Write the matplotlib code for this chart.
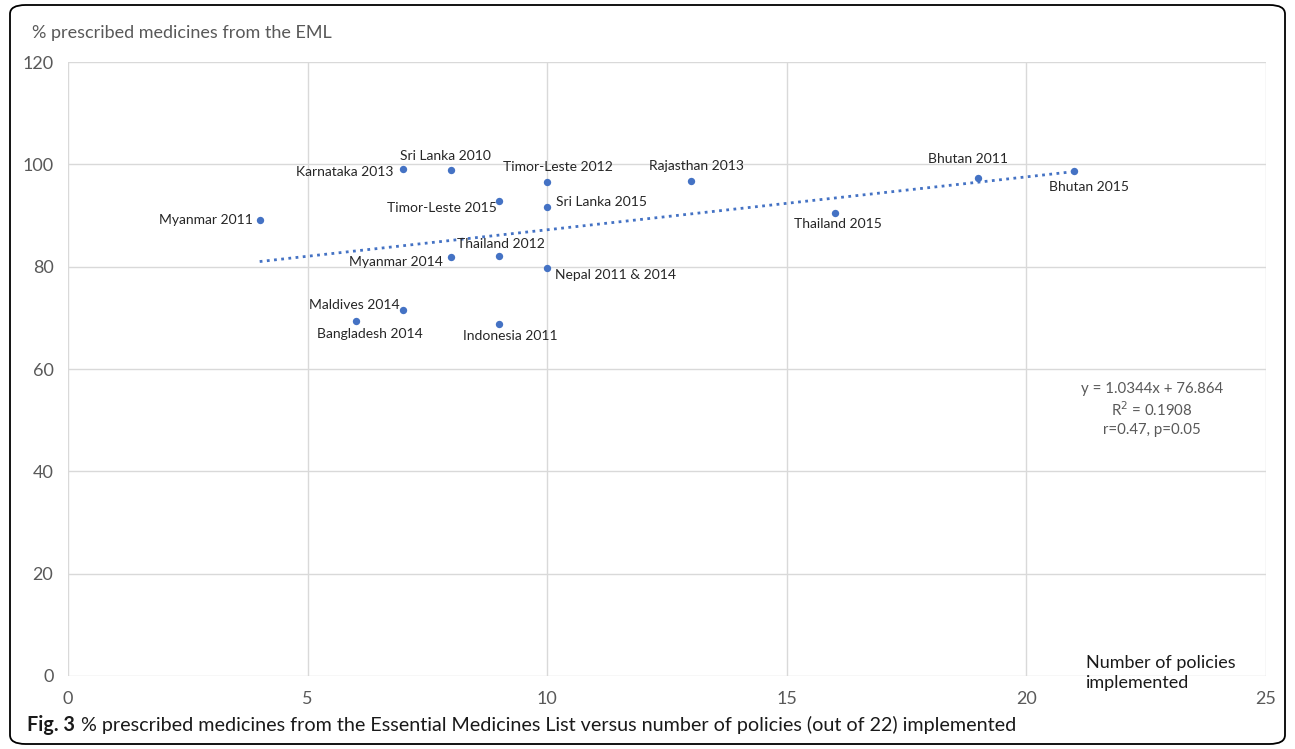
import numpy as np
import matplotlib.pyplot as plt
from matplotlib.patches import FancyBboxPatch

plt.rcParams['font.family'] = ['Lato', 'DejaVu Sans']

# policies implemented vs % prescribed from the EML
labels = ['Myanmar 2011', 'Karnataka 2013', 'Sri Lanka 2010', 'Timor-Leste 2012',
          'Rajasthan 2013', 'Bhutan 2011', 'Bhutan 2015', 'Timor-Leste 2015',
          'Sri Lanka 2015', 'Thailand 2015', 'Thailand 2012', 'Myanmar 2014',
          'Nepal 2011 & 2014', 'Maldives 2014', 'Bangladesh 2014', 'Indonesia 2011']
policies = [4, 7, 8, 10, 13, 19, 21, 9, 10, 16, 9, 8, 10, 7, 6, 9]
pct_eml = [89.2, 99.1, 98.9, 96.5, 96.7, 97.3, 98.6, 92.8,
           91.6, 90.4, 82.1, 81.9, 79.8, 71.6, 69.4, 68.7]

slope, intercept = 1.0344, 76.864
x_ticks = [0, 5, 10, 15, 20, 25]
y_ticks = [0, 20, 40, 60, 80, 100, 120]

# label placement (pixel offset from point, alignment)
label_pos = {
    'Myanmar 2011': ((-7, 0), 'right', 'center'),
    'Karnataka 2013': ((-10, -3), 'right', 'center'),
    'Sri Lanka 2010': ((-6, 8), 'center', 'bottom'),
    'Timor-Leste 2012': ((11, 9), 'center', 'bottom'),
    'Rajasthan 2013': ((5, 9), 'center', 'bottom'),
    'Bhutan 2011': ((-10, 13), 'center', 'bottom'),
    'Bhutan 2015': ((15, -10), 'center', 'top'),
    'Timor-Leste 2015': ((-2, -7), 'right', 'center'),
    'Sri Lanka 2015': ((9, 5), 'left', 'center'),
    'Thailand 2015': ((3, -5), 'center', 'top'),
    'Thailand 2012': ((2, 6), 'center', 'bottom'),
    'Myanmar 2014': ((-8, -5), 'right', 'center'),
    'Nepal 2011 & 2014': ((8, -7), 'left', 'center'),
    'Maldives 2014': ((-4, 5), 'right', 'center'),
    'Bangladesh 2014': ((-39, -7), 'left', 'top'),
    'Indonesia 2011': ((11, -6), 'center', 'top'),
}

W, H = 1295, 749
fig = plt.figure(figsize=(W / 100, H / 100), dpi=100)
ax = fig.add_axes([68 / W, 1 - 676 / H, (1266 - 68) / W, (676 - 62) / H])

blue = '#4472C4'
grey = '#595959'

ax.scatter(policies, pct_eml, s=28, color=blue, zorder=3, linewidths=0)

xs = np.array([min(policies), max(policies)])
ax.plot(xs, slope * xs + intercept, color=blue, lw=2.0, ls=(0, (1, 1.6)), zorder=2)

for name, x, y in zip(labels, policies, pct_eml):
    off, ha, va = label_pos[name]
    ax.annotate(name, (x, y), xytext=off, textcoords='offset pixels',
                ha=ha, va=va, fontsize=10, color='#262626')

ax.set_xlim(0, 25)
ax.set_ylim(0, 120)
ax.set_xticks(x_ticks)
ax.set_yticks(y_ticks)
ax.grid(True, color='#d9d9d9', lw=1)
ax.set_axisbelow(True)
for s in ax.spines.values():
    s.set_visible(False)
ax.tick_params(length=0, labelsize=13, labelcolor=grey)
ax.tick_params(axis='x', pad=11)
ax.tick_params(axis='y', pad=10.5)

ax.text(1 - 114 / 1198, 1 - 320 / 614,
        'y = 1.0344x + 76.864\nR$^2$ = 0.1908\nr=0.47, p=0.05',
        transform=ax.transAxes, ha='center', va='top', fontsize=10.8,
        color=grey, linespacing=1.3)

ax.text(1 - 105 / 1198, -15 / 614, 'Number of policies\nimplemented',
        transform=ax.transAxes, ha='center', va='bottom', fontsize=13,
        color='#1a1a1a', linespacing=1.3, multialignment='left')

fig.text(32 / W, 1 - 33 / H, '% prescribed medicines from the EML',
         ha='left', va='center', fontsize=13, color=grey)

# caption: bold figure number followed by regular text
cap_y = 1 - 725 / H
fig_no = fig.text(27 / W, cap_y, 'Fig. 3', ha='left', va='center',
                  fontsize=14.2, fontweight='bold', color='#1a1a1a')
fig.canvas.draw()
bb = fig_no.get_window_extent()
fig.text((bb.x1 + 6) / W, cap_y,
         '% prescribed medicines from the Essential Medicines List versus number of policies (out of 22) implemented',
         ha='left', va='center', fontsize=14.2, color='#1a1a1a')

frame = FancyBboxPatch((10 / W, 5 / H), 1275 / W, 739 / H,
                       boxstyle='round,pad=0,rounding_size=0.012',
                       transform=fig.transFigure, fill=False, ec='black', lw=1.3)
fig.patches.append(frame)

fig.savefig('out.png', dpi=100)
